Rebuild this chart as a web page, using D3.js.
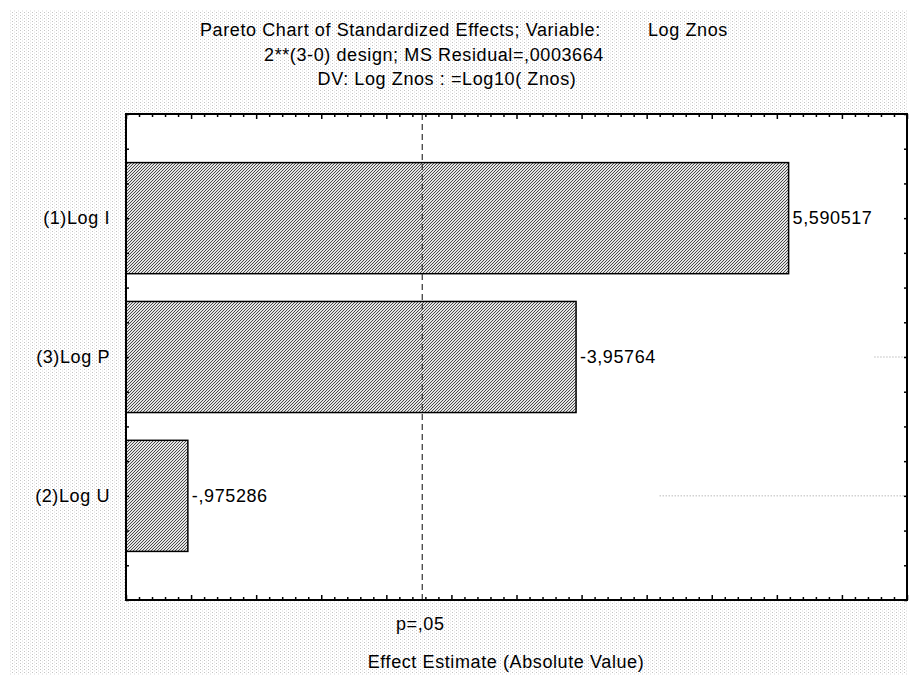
<!DOCTYPE html>
<html>
<head>
<meta charset="utf-8">
<script src="https://cdn.jsdelivr.net/npm/d3@7"></script>
<style>
  body { margin: 0; background: #fff; }
  svg text { font-family: "Liberation Sans", Arial, sans-serif; fill: #000; font-size: 18px; letter-spacing: 0.6px; }
</style>
</head>
<body>
<div id="chart"></div>
<script>
// effects, sorted by absolute value (Pareto order)
const effectNames = ["(1)Log I", "(3)Log P", "(2)Log U"];
const effectValues = [5.590517, -3.95764, -0.975286];
const effectLabels = ["5,590517", "-3,95764", "-,975286"];
const pCritical = 2.776;   // t(4), p = .05
const pLabel = "p=,05";
const titleLines = [
    "Pareto Chart of Standardized Effects; Variable:",
    "2**(3-0) design; MS Residual=,0003664",
    "DV: Log Znos : =Log10( Znos)"
];
const titleVar = "Log Znos";
const xTitle = "Effect Estimate (Absolute Value)";

const width = 910, height = 675;
const margin = { top: 114, left: 126 };

const svg = d3.select("#chart").append("svg")
    .attr("width", width)
    .attr("height", height);

const defs = svg.append("defs");

// speckled background like the original window
const dots = defs.append("pattern")
    .attr("id", "dots")
    .attr("patternUnits", "userSpaceOnUse")
    .attr("width", 4)
    .attr("height", 3);
dots.append("rect").attr("width", 4).attr("height", 3).attr("fill", "#fff");
dots.append("rect").attr("x", 0).attr("y", 0).attr("width", 1).attr("height", 1).attr("fill", "#c4c4c4");
dots.append("rect").attr("x", 2).attr("y", 1.5).attr("width", 1).attr("height", 1).attr("fill", "#dadada");

// pixel hatch for the bars ("///")
const hatch = defs.append("pattern")
    .attr("id", "hatch")
    .attr("patternUnits", "userSpaceOnUse")
    .attr("width", 3)
    .attr("height", 3);
hatch.append("rect").attr("width", 3).attr("height", 3).attr("fill", "#e6e6e6");
[[2, 0], [1, 1], [0, 2]].forEach(([px, py]) => {
    hatch.append("rect")
        .attr("x", px).attr("y", py)
        .attr("width", 1).attr("height", 1)
        .attr("fill", "#4a4a4a")
        .attr("shape-rendering", "crispEdges");
});

svg.append("rect")
    .attr("x", 10).attr("y", 10)
    .attr("width", 898).attr("height", height - 10)
    .attr("fill", "url(#dots)");

const x0 = margin.left, y0 = margin.top;
const x = d3.scaleLinear().domain([0.5, 6.5]).range([x0, x0 + 781]);
const y = d3.scaleLinear().domain([0.25, 3.75]).range([y0, y0 + 486]);

const g = svg.append("g");

g.append("rect")
    .attr("x", x.range()[0]).attr("y", y.range()[0])
    .attr("width", x.range()[1] - x.range()[0])
    .attr("height", y.range()[1] - y.range()[0])
    .attr("fill", "#fff");

// small dotted leftovers seen on the right of the plot
const strayLines = [
    { row: 2, from: 6.25, to: 6.5 },
    { row: 3, from: 4.6, to: 6.5 }
];
g.selectAll(".stray").data(strayLines).join("line")
    .attr("x1", d => x(d.from)).attr("x2", d => x(d.to))
    .attr("y1", d => y(d.row)).attr("y2", d => y(d.row))
    .attr("stroke", "#999")
    .attr("stroke-dasharray", "1,2");

// bars
g.selectAll(".bar").data(effectValues).join("rect")
    .attr("x", x(0.5))
    .attr("y", (d, i) => y(i + 1 - 0.4))
    .attr("width", d => x(Math.abs(d)) - x(0.5))
    .attr("height", y(1.4) - y(0.6))
    .attr("fill", "url(#hatch)")
    .attr("stroke", "#000")
    .attr("stroke-width", 1.5);

// value labels
g.selectAll(".val").data(effectValues).join("text")
    .attr("x", d => x(Math.abs(d)) + 4)
    .attr("y", (d, i) => y(i + 1))
    .attr("dy", "0.35em")
    .text((d, i) => effectLabels[i]);

// category labels
g.selectAll(".cat").data(effectNames).join("text")
    .attr("x", x0 - 16)
    .attr("y", (d, i) => y(i + 1))
    .attr("dy", "0.35em")
    .attr("text-anchor", "end")
    .text(d => d);

// p = .05 line
g.append("line")
    .attr("x1", x(pCritical)).attr("x2", x(pCritical))
    .attr("y1", y(0.25)).attr("y2", y(3.75))
    .attr("stroke", "#333")
    .attr("stroke-width", 1.2)
    .attr("stroke-dasharray", "6,4");

g.append("text")
    .attr("x", x(pCritical) - 2)
    .attr("y", 630)
    .attr("text-anchor", "middle")
    .text(pLabel);

// ticks, pointing inward on all four sides
const xTicks = d3.range(5, 66).map(v => v / 10);
const yTicks = d3.range(1, 16).map(v => v / 4);
const tickLen = v => (Math.abs(v * 2 - Math.round(v * 2)) < 1e-6 ? 5 : 3);

function drawAxis(axis, transform, values) {
    const a = g.append("g")
        .attr("transform", transform)
        .call(axis.tickValues(values).tickSizeOuter(0).tickFormat(""));
    a.select(".domain").remove();
    a.selectAll(".tick line").attr("stroke", "#000").attr("stroke-width", 1.5);
    return a;
}

const axBottom = drawAxis(d3.axisBottom(x), `translate(0,${y(3.75)})`, xTicks);
axBottom.selectAll(".tick line").attr("y2", d => -tickLen(d));
const axTop = drawAxis(d3.axisTop(x), `translate(0,${y(0.25)})`, xTicks);
axTop.selectAll(".tick line").attr("y2", d => tickLen(d));
const axLeft = drawAxis(d3.axisLeft(y), `translate(${x(0.5)},0)`, yTicks);
axLeft.selectAll(".tick line").attr("x2", 3);
const axRight = drawAxis(d3.axisRight(y), `translate(${x(6.5)},0)`, yTicks);
axRight.selectAll(".tick line").attr("x2", -3);

// frame
g.append("rect")
    .attr("x", x(0.5)).attr("y", y(0.25))
    .attr("width", x(6.5) - x(0.5))
    .attr("height", y(3.75) - y(0.25))
    .attr("fill", "none")
    .attr("stroke", "#000")
    .attr("stroke-width", 2);

// titles
svg.append("text").attr("x", 200).attr("y", 36).text(titleLines[0]);
svg.append("text").attr("x", 648).attr("y", 36).text(titleVar);
svg.append("text").attr("x", 434).attr("y", 61).attr("text-anchor", "middle").text(titleLines[1]);
svg.append("text").attr("x", 447).attr("y", 85).attr("text-anchor", "middle").text(titleLines[2]);

svg.append("text")
    .attr("x", 506).attr("y", 668)
    .attr("text-anchor", "middle")
    .text(xTitle);
</script>
</body>
</html>
